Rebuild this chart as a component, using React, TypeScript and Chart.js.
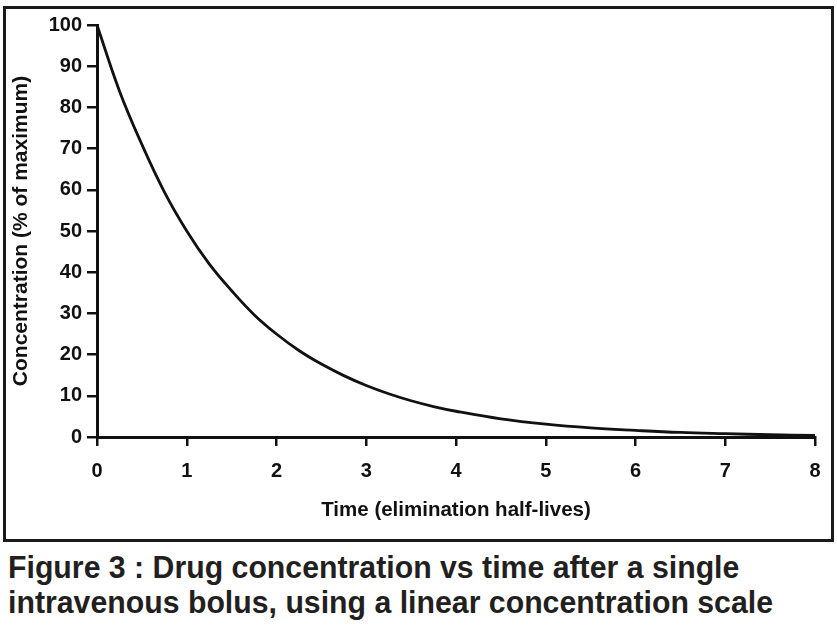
import React, { useEffect, useLayoutEffect, useRef, useState } from "react";
import { Chart, registerables } from "chart.js";

Chart.register(...registerables);

const halfLives = [0, 0.25, 0.5, 0.75, 1, 1.25, 1.5, 1.75, 2, 2.25, 2.5, 2.75, 3, 3.25, 3.5, 3.75, 4, 4.5, 5, 5.5, 6, 6.5, 7, 7.5, 8];
const concentration = [100, 84, 71, 59.5, 50, 42, 35.5, 29.7, 25, 21, 17.7, 14.9, 12.5, 10.5, 8.8, 7.4, 6.25, 4.4, 3.1, 2.2, 1.6, 1.1, 0.8, 0.55, 0.4];
const xTitle = "Time (elimination half-lives)";
const yTitle = "Concentration (% of maximum)";
const captionLines = [
  "Figure 3 : Drug concentration vs time after a single",
  "intravenous bolus, using a linear concentration scale",
];

const FAMILY = "'Liberation Sans', Arial, sans-serif";

export default function App() {
  const ref = useRef<HTMLCanvasElement | null>(null);
  const capRef = useRef<HTMLSpanElement | null>(null);
  const [sx, setSx] = useState(1);

  useLayoutEffect(() => {
    if (capRef.current) {
      const w = capRef.current.getBoundingClientRect().width;
      if (w > 0) setSx(765 / w);
    }
  }, []);

  useEffect(() => {
    if (!ref.current) return;
    const font = { family: FAMILY, weight: "bold" as const, size: 20 };
    const chart = new Chart(ref.current, {
      type: "line",
      data: {
        datasets: [
          {
            data: halfLives.map((t, i) => ({ x: t, y: concentration[i] })),
            borderColor: "#111111",
            borderWidth: 2.8,
            pointRadius: 0,
            tension: 0.4,
            fill: false,
            clip: 4,
          },
        ],
      },
      options: {
        animation: false,
        responsive: false,
        layout: { padding: { top: 25, right: 22, left: 0, bottom: 0 } },
        plugins: { legend: { display: false }, tooltip: { enabled: false } },
        scales: {
          x: {
            type: "linear",
            min: 0,
            max: 8,
            ticks: { stepSize: 1, color: "#111", font, padding: 13 },
            grid: { drawOnChartArea: false, drawTicks: true, tickLength: 9, color: "#111", lineWidth: 2.5 },
            border: { display: true, color: "#111", width: 3 },
            title: {
              display: true,
              text: xTitle,
              color: "#111",
              font: { family: FAMILY, weight: "bold", size: 20.5 },
              padding: { top: 0, bottom: 22 },
            },
            afterFit: (s: any) => {
              s.height = 108;
            },
          },
          y: {
            type: "linear",
            min: 0,
            max: 100,
            ticks: { stepSize: 10, color: "#111", font, padding: 5 },
            grid: { drawOnChartArea: false, drawTicks: true, tickLength: 10, color: "#111", lineWidth: 2.5 },
            border: { display: true, color: "#111", width: 3 },
            title: {
              display: true,
              text: yTitle,
              color: "#111",
              font: { family: FAMILY, weight: "bold", size: 21 },
              padding: { top: 9, bottom: 0 },
            },
            afterFit: (s: any) => {
              s.width = 97;
            },
          },
        },
      },
    });
    return () => chart.destroy();
  }, []);

  return (
    <div style={{ position: "absolute", left: 0, top: 0, width: 837, height: 631, background: "#fff", overflow: "hidden" }}>
      <div
        style={{
          position: "absolute",
          left: 3,
          top: 6,
          width: 831,
          height: 536,
          boxSizing: "border-box",
          border: "3px solid #1a1a1a",
        }}
      />
      <canvas ref={ref} width={837} height={545} style={{ position: "absolute", left: 0, top: 0 }} />
      <div
        style={{
          position: "absolute",
          left: 8,
          top: 550,
          fontFamily: FAMILY,
          fontWeight: "bold",
          fontSize: 31,
          lineHeight: "35px",
          color: "#231f20",
          whiteSpace: "nowrap",
          transform: `scaleX(${sx})`,
          transformOrigin: "left top",
        }}
      >
        <div>{captionLines[0]}</div>
        <div>
          <span ref={capRef}>{captionLines[1]}</span>
        </div>
      </div>
    </div>
  );
}
